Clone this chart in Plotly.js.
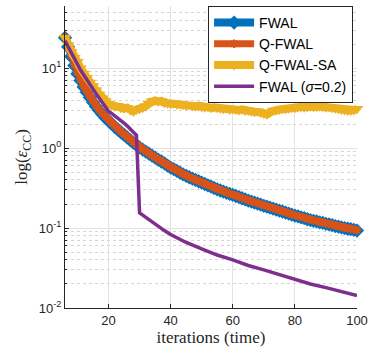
<!DOCTYPE html>
<html><head><meta charset="utf-8">
<script src="https://cdn.plot.ly/plotly-3.0.1.min.js"></script>
<style>html,body{margin:0;padding:0;background:#fff}#chart{width:370px;height:349px}</style>
</head><body><div id="chart"></div>
<script>
const startIter = 6, endIter = 100;
const iterations = [];
for (let k = startIter; k <= endIter; k++) iterations.push(k);

const fwal = [24,18.5,14,10.8,8.5,7.0,5.8,5.0,4.3,3.75,3.3,2.95,2.65,2.4,2.2,2.02,1.85,1.71,1.58,1.47,1.36,1.26,1.17,1.09,1.02,
0.96,0.905,0.855,0.805,0.76,0.72,0.68,0.645,0.605,0.57,0.545,0.52,0.495,0.47,0.45,0.432,0.415,0.4,0.385,0.37,
0.356,0.343,0.33,0.317,0.305,0.295,0.285,0.276,0.268,0.26,0.252,0.244,0.236,0.228,0.22,0.214,0.208,0.202,0.196,0.19,
0.185,0.18,0.175,0.17,0.165,0.161,0.156,0.152,0.147,0.143,0.14,0.136,0.133,0.129,0.126,0.123,0.121,0.118,0.116,0.113,
0.111,0.109,0.106,0.104,0.102,0.1,0.098,0.097,0.095,0.093];

const qfwal = [24.5,19.0,14.5,11.2,8.8,7.25,6.0,5.2,4.45,3.88,3.42,3.05,2.74,2.48,2.27,2.08,1.9,1.76,1.62,1.5,1.39,1.29,1.19,1.11,1.04,
0.97,0.915,0.862,0.812,0.767,0.726,0.686,0.65,0.61,0.575,0.55,0.524,0.5,0.474,0.454,0.436,0.419,0.403,0.388,0.373,
0.359,0.346,0.333,0.32,0.308,0.298,0.288,0.279,0.27,0.262,0.254,0.246,0.238,0.23,0.222,0.216,0.21,0.204,0.198,0.192,
0.187,0.182,0.177,0.172,0.167,0.162,0.158,0.153,0.149,0.145,0.141,0.138,0.134,0.131,0.128,0.125,0.122,0.119,0.117,0.114,
0.112,0.11,0.107,0.105,0.103,0.101,0.099,0.098,0.096,0.094];

const qfwalSA = [24,19.5,16,13.5,12,10,8.6,7.6,6.6,6.0,5.3,4.7,4.2,3.9,3.6,
3.45,3.35,3.4,3.2,3.15,3.2,3.0,2.9,3.05,3.1,
3.2,3.35,3.6,3.9,3.95,3.85,3.9,3.7,3.65,3.6,
3.65,3.55,3.55,3.5,3.45,3.5,3.4,3.35,3.4,3.3,
3.25,3.3,3.2,3.25,3.2,3.15,3.1,3.15,3.05,3.1,
3.05,3.0,3.05,2.95,2.95,2.9,2.85,2.9,2.8,2.72,
2.66,2.8,2.95,3.0,3.05,3.1,3.1,3.15,3.2,3.2,
3.25,3.3,3.25,3.3,3.35,3.3,3.3,3.35,3.3,3.25,
3.3,3.2,3.15,3.1,3.05,3.0,2.95,2.95,3.0,3.1];

const sigmaIters = [6,7,8,9,10,11,12,13,14,15,16,17,18,19,20,21,22,23,24,25,26,27,28,29,30,31,32,33,34,35,36,38,40,45,50,55,60,65,70,75,80,85,90,95,100];
const fwalSigma = [22,18.5,15.5,13,11,9.5,8.3,7.2,6.2,5.4,4.8,4.25,3.75,3.3,2.9,2.72,2.55,2.37,2.2,2.05,1.9,1.75,1.6,1.45,
0.155,0.145,0.135,0.126,0.118,0.111,0.105,0.093,0.083,0.066,0.055,0.046,0.040,0.034,0.030,0.026,0.023,0.020,0.018,0.016,0.0143];

const xTicks = [20,40,60,80,100];
const yTickVals = [0.01,0.1,1,10];
const yTickText = ['10<sup>-2</sup>','10<sup>-1</sup>','10<sup>0</sup>','10<sup>1</sup>'];

const traces = [
  {x: iterations, y: fwal, name: 'FWAL', mode: 'lines+markers', cliponaxis: false,
   line: {color: '#0072BD', width: 8}, marker: {symbol: 'diamond', size: 11, color: '#0072BD'}},
  {x: iterations, y: qfwal, name: 'Q-FWAL', mode: 'lines+markers', cliponaxis: false,
   line: {color: '#D95319', width: 7}, marker: {symbol: 'asterisk-open', size: 7, color: '#D95319', line: {color: '#D95319', width: 2}}},
  {x: iterations, y: qfwalSA, name: 'Q-FWAL-SA', mode: 'lines+markers', cliponaxis: false,
   line: {color: '#EDB120', width: 8}, marker: {symbol: 'triangle-down', size: 11, color: '#EDB120'}},
  {x: sigmaIters, y: fwalSigma, name: 'FWAL (<i>σ</i>=0.2)', mode: 'lines', cliponaxis: false,
   line: {color: '#7E2F8E', width: 3.5}}
];

const layout = {
  width: 370, height: 349,
  margin: {l: 65, r: 13, t: 6, b: 41},
  paper_bgcolor: '#fff', plot_bgcolor: '#fff',
  font: {family: 'Liberation Sans, Arial, sans-serif', size: 13, color: '#262626'},
  showlegend: true,
  legend: {x: 0.49, y: 1.0, xanchor: 'left', yanchor: 'top', bgcolor: '#fff', itemwidth: 40,
    bordercolor: '#262626', borderwidth: 1, font: {size: 14, color: '#000'}, tracegroupgap: 0},
  xaxis: {range: [6, 100], tickvals: xTicks, ticks: 'inside', ticklen: 4, tickcolor: '#262626',
    showline: true, linecolor: '#262626', linewidth: 1, zeroline: false,
    showgrid: true, gridcolor: '#e3e3e3', gridwidth: 1,
    title: {text: 'iterations (time)', font: {family: 'Liberation Serif, DejaVu Serif, serif', size: 17, color: '#262626'}, standoff: 4}},
  yaxis: {type: 'log', range: [-2, Math.log10(60)], tickvals: yTickVals, ticktext: yTickText,
    ticks: 'inside', ticklen: 4, tickcolor: '#262626',
    showline: true, linecolor: '#262626', linewidth: 1, zeroline: false,
    showgrid: true, gridcolor: '#e3e3e3', gridwidth: 1,
    minor: {dtick: 'D1', ticks: 'inside', ticklen: 2, tickcolor: '#262626', showgrid: true, gridcolor: '#d6d6d6', griddash: 'dot', gridwidth: 1},
    title: {text: 'log(<i>ε</i><sub>CC</sub>)', font: {family: 'Liberation Serif, DejaVu Serif, serif', size: 17, color: '#262626'}, standoff: 6}}
};

Plotly.newPlot('chart', traces, layout, {displayModeBar: false, staticPlot: true});
</script></body></html>
